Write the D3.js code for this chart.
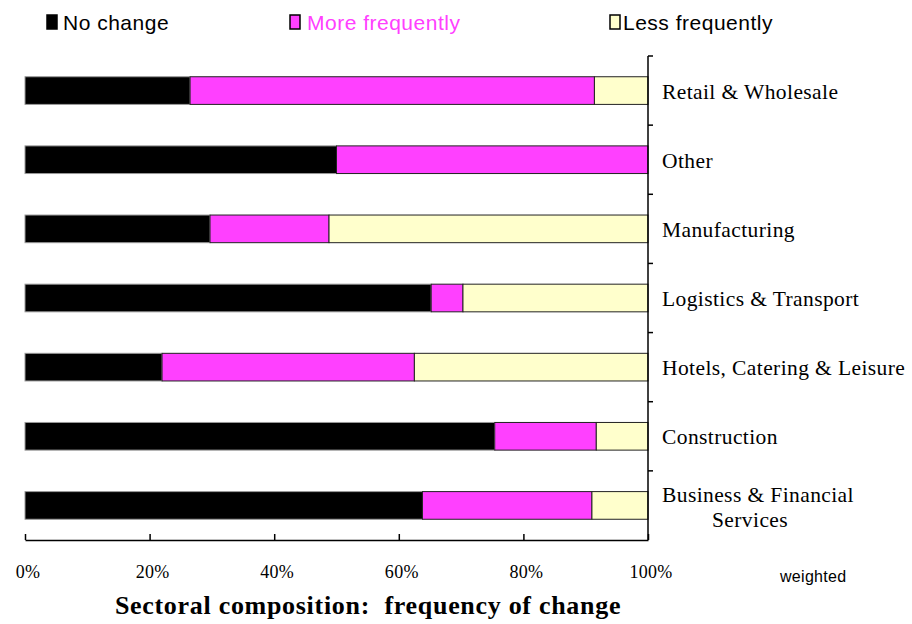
<!DOCTYPE html>
<html>
<head>
<meta charset="utf-8">
<script src="https://cdn.jsdelivr.net/npm/d3@7"></script>
<style>
  body { margin: 0; background: #fff; }
</style>
</head>
<body>
<div id="chart-area"></div>
<script>
// sectors, top to bottom
const sectors = ["Retail & Wholesale", "Other", "Manufacturing", "Logistics & Transport",
  "Hotels, Catering & Leisure", "Construction", "Business & Financial Services"]
const noChange = [26.5, 50.0, 29.7, 65.2, 22.0, 75.4, 63.8]
const moreFrequently = [64.9, 50.0, 19.1, 5.1, 40.5, 16.3, 27.2]
const lessFrequently = [8.6, 0.0, 51.2, 29.7, 37.5, 8.3, 9.0]
const seriesNames = ["No change", "More frequently", "Less frequently"]
const xTicks = [0, 20, 40, 60, 80, 100]

const COLORS = ["#000000", "#ff40ff", "#ffffcc"]
const WIDTH = 912, HEIGHT = 624
const MARGIN = { LEFT: 25, RIGHT: 264, TOP: 56, BOTTOM: 84 }

const svg = d3.select("#chart-area").append("svg")
  .attr("width", WIDTH)
  .attr("height", HEIGHT)

const x = d3.scaleLinear().domain([0, 100]).range([MARGIN.LEFT, WIDTH - MARGIN.RIGHT])
const y = d3.scaleBand().domain(sectors)
  .range([MARGIN.TOP, HEIGHT - MARGIN.BOTTOM])
  .paddingInner(0.6).paddingOuter(0.3)

const rows = sectors.map((s, i) => ({ sector: s, v: [noChange[i], moreFrequently[i], lessFrequently[i]] }))
const stacked = d3.stack().keys([0, 1, 2]).value((d, k) => d.v[k])(rows)

// bars
stacked.forEach((layer, k) => {
  svg.append("g").selectAll("rect")
    .data(layer)
    .join("rect")
    .attr("x", d => x(d[0]))
    .attr("y", d => y(d.data.sector))
    .attr("width", d => x(d[1]) - x(d[0]))
    .attr("height", y.bandwidth())
    .attr("fill", COLORS[k])
    .attr("stroke", k === 0 ? "#999" : "#222")
    .attr("stroke-width", 1)
})

// bottom axis, ticks pointing up
const xAxis = svg.append("g")
  .attr("transform", `translate(0, ${HEIGHT - MARGIN.BOTTOM})`)
  .call(d3.axisBottom(x).tickValues(xTicks).tickSizeInner(-6).tickSizeOuter(0).tickFormat(""))
xAxis.selectAll("line, path").attr("stroke", "#000").attr("stroke-width", 1.5)

svg.append("g").selectAll("text")
  .data(xTicks)
  .join("text")
  .attr("x", d => x(d) + 3)
  .attr("y", HEIGHT - MARGIN.BOTTOM + 38)
  .attr("text-anchor", "middle")
  .style("font-family", "Liberation Serif, serif")
  .style("font-size", "18px")
  .style("letter-spacing", "0.3px")
  .text(d => d + "%")

// right axis with ticks at band boundaries
const bounds = sectors.map(s => y(s) - y.step() * y.paddingInner() / 2 - (s === sectors[0] ? y.step() * (y.paddingOuter() - y.paddingInner() / 2) : 0))
svg.append("line")
  .attr("x1", x(100)).attr("x2", x(100))
  .attr("y1", MARGIN.TOP).attr("y2", HEIGHT - MARGIN.BOTTOM)
  .attr("stroke", "#000").attr("stroke-width", 1.5)
svg.append("g").selectAll("line")
  .data(bounds)
  .join("line")
  .attr("x1", x(100)).attr("x2", x(100) + 5)
  .attr("y1", d => d).attr("y2", d => d)
  .attr("stroke", "#000").attr("stroke-width", 1.5)

// category labels
const labels = svg.append("g")
  .style("font-family", "Liberation Serif, serif")
  .style("font-size", "21.5px")
  .style("letter-spacing", "0.4px")
sectors.forEach(s => {
  const cy = y(s) + y.bandwidth() / 2
  if (s === "Business & Financial Services") {
    labels.append("text").attr("x", x(100) + 14).attr("y", cy - 3).text("Business & Financial")
    labels.append("text").attr("x", x(100) + 64).attr("y", cy + 22).text("Services")
  } else {
    labels.append("text").attr("x", x(100) + 14).attr("y", cy + 8).text(s)
  }
})

// legend
const legendX = [47, 290, 610]
const legendTextX = [63, 307, 623]
const legend = svg.append("g")
  .style("font-family", "Liberation Sans, Arial, sans-serif")
  .style("font-size", "21px")
  .style("letter-spacing", "0.5px")
seriesNames.forEach((name, k) => {
  legend.append("rect")
    .attr("x", legendX[k]).attr("y", 15)
    .attr("width", 10).attr("height", 14)
    .attr("fill", COLORS[k])
    .attr("stroke", "#000").attr("stroke-width", 1.5)
  legend.append("text")
    .attr("x", legendTextX[k]).attr("y", 30)
    .attr("fill", k === 1 ? "#ff40ff" : "#000")
    .text(name)
})

// footnote and title
svg.append("text")
  .attr("x", 780).attr("y", 582)
  .style("font-family", "Liberation Sans, Arial, sans-serif")
  .style("font-size", "16px")
  .style("letter-spacing", "0.3px")
  .text("weighted")

svg.append("text")
  .attr("x", 368).attr("y", 614)
  .attr("text-anchor", "middle")
  .style("font-family", "Liberation Serif, serif")
  .style("font-size", "26px")
  .style("font-weight", "bold")
  .style("letter-spacing", "0.7px")
  .style("white-space", "pre")
  .text("Sectoral composition:  frequency of change")
</script>
</body>
</html>
